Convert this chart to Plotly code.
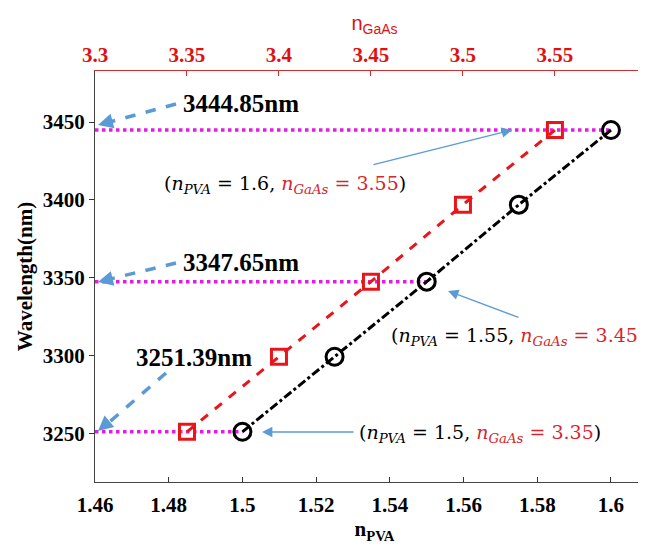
import plotly.graph_objects as go

# ---- data ----
n_pva = [1.5, 1.525, 1.55, 1.575, 1.6]
n_gaas = [3.35, 3.40, 3.45, 3.50, 3.55]
wavelength = [3251.39, 3299.5, 3347.65, 3397.0, 3444.85]
marked_wl = [3444.85, 3347.65, 3251.39]
marked_pva = [1.6, 1.55, 1.5]
pva_ticks = [1.46, 1.48, 1.5, 1.52, 1.54, 1.56, 1.58, 1.6]
pva_ticktext = ["1.46", "1.48", "1.5", "1.52", "1.54", "1.56", "1.58", "1.6"]
gaas_ticks = [3.3, 3.35, 3.4, 3.45, 3.5, 3.55]
gaas_ticktext = ["3.3", "3.35", "3.4", "3.45", "3.5", "3.55"]
wl_ticks = [3250, 3300, 3350, 3400, 3450]
labels_nm = ["3444.85nm", "3347.65nm", "3251.39nm"]
pair_labels = [("1.6", "3.55"), ("1.55", "3.45"), ("1.5", "3.35")]

OFF = 8  # default page body margin
W, H = 646, 548 - OFF
L, R, T, B = 95 - OFF, 0, 71 - OFF, 66
PL, PT = 95, 71            # plot-area origin in window pixels
PW, PH = W - L - R, H - T - B
XPX = 551 / 0.1495         # pixels per unit of n_PVA
X2PX = 551 / 0.2995        # pixels per unit of n_GaAs
XR = [1.46, 1.46 + PW / XPX]
X2R = [3.3, 3.3 + PW / X2PX]
YR = [3219.2, 3482.7]

def px2x(px):
    return XR[0] + (px - PL) / PW * (XR[1] - XR[0])

def py2y(py):
    return YR[1] - (py - PT) / PH * (YR[1] - YR[0])

SERIF = "Liberation Serif"
BLUE = "#5B9BD5"
RED = "#E8161B"

fig = go.Figure()

# magenta dotted guide lines
for wl, xp in zip(marked_wl, marked_pva):
    fig.add_trace(go.Scatter(x=[XR[0], xp], y=[wl, wl], mode="lines",
                             line=dict(color="#E61AE6", width=3.5, dash="dot"),
                             showlegend=False, hoverinfo="skip"))

# black series (n_PVA)
fig.add_trace(go.Scatter(x=n_pva, y=wavelength, mode="lines+markers",
                         line=dict(color="black", width=3, dash="dashdot"),
                         marker=dict(symbol="circle-open", size=17, color="black",
                                     line=dict(width=3)),
                         showlegend=False))
# red series (n_GaAs)
fig.add_trace(go.Scatter(x=n_gaas, y=wavelength, xaxis="x2", mode="lines+markers",
                         line=dict(color=RED, width=3, dash="dash"),
                         marker=dict(symbol="square-open", size=15, color=RED,
                                     line=dict(width=3)),
                         showlegend=False))
# invisible trace for right axis ticks
fig.add_trace(go.Scatter(x=[n_pva[0]], y=[wavelength[0]], yaxis="y2", mode="markers",
                         marker=dict(opacity=0), showlegend=False, hoverinfo="skip"))

shapes = []
annotations = []

# dashed blue arrows to the y axis
big_arrows = [((176, 104), (98, 125)), ((176, 263), (98, 282)), ((166, 373), (98, 431))]
for (tx, ty), (hx, hy) in big_arrows:
    shapes.append(dict(type="line", xref="x", yref="y",
                       x0=px2x(tx), y0=py2y(ty), x1=px2x(hx + 8), y1=py2y(hy - 2 if ty < 300 else hy - 6),
                       line=dict(color=BLUE, width=3.5, dash="dash")))
    annotations.append(dict(x=px2x(hx), y=py2y(hy), xref="x", yref="y",
                            ax=(tx - hx) * 0.16, ay=(ty - hy) * 0.16, text="",
                            showarrow=True, arrowhead=2, arrowsize=1.0, arrowwidth=3,
                            arrowcolor=BLUE))

# nm labels
nm_pos = [(181, 103), (181, 262), (134, 357)]
for txt, (x, y) in zip(labels_nm, nm_pos):
    annotations.append(dict(x=px2x(x), y=py2y(y), xref="x", yref="y", text="<b>" + txt + "</b>",
                            showarrow=False, xanchor="left", yanchor="middle",
                            font=dict(family=SERIF, size=25, color="black", weight="bold")))

# thin blue arrows
thin_arrows = [((372, 165), (512, 130)), ((520, 318), (448, 291)), ((355, 432), (262, 432))]
for (tx, ty), (hx, hy) in thin_arrows:
    annotations.append(dict(x=px2x(hx), y=py2y(hy), xref="x", yref="y",
                            ax=tx - hx, ay=ty - hy, text="",
                            showarrow=True, arrowhead=2, arrowsize=1.6, arrowwidth=1.3,
                            arrowcolor=BLUE))

# pair labels
pair_pos = [(162, 184), (389, 336), (357, 433)]
for (pv, ga), (x, y) in zip(pair_labels, pair_pos):
    txt = ("(<i>n</i><sub><i>PVA</i></sub> = " + pv + ", "
           "<span style='color:#D7262B'><i>n</i><sub><i>GaAs</i></sub> = " + ga + "</span>)")
    annotations.append(dict(x=px2x(x), y=py2y(y), xref="x", yref="y", text=txt,
                            showarrow=False, xanchor="left", yanchor="middle",
                            font=dict(family="DejaVu Serif", size=19, color="black")))

tick_black = dict(family=SERIF, size=21, color="black", weight="bold")
tick_red = dict(family=SERIF, size=21, color="#E01010", weight="bold")

fig.update_layout(
    width=W, height=H,
    margin=dict(l=L, r=R, t=T, b=B, pad=0, autoexpand=False),
    paper_bgcolor="white", plot_bgcolor="white",
    shapes=shapes, annotations=annotations,
    xaxis=dict(range=XR, tickvals=pva_ticks, ticktext=pva_ticktext, automargin=False,
               ticks="inside", ticklen=5, tickcolor="#333", showline=True, linecolor="#444",
               linewidth=1, showgrid=False, zeroline=False, ticklabelstandoff=4,
               tickfont=tick_black,
               title=dict(text="<b>n<sub>PVA</sub></b>",
                          font=dict(family=SERIF, size=21, color="black", weight="bold"),
                          standoff=4)),
    xaxis2=dict(range=X2R, overlaying="x", side="top", tickvals=gaas_ticks, ticktext=gaas_ticktext,
                automargin=False,
                ticks="inside", ticklen=5, tickcolor="#D03030", showline=True, linecolor="#D03030",
                linewidth=1, showgrid=False, zeroline=False,
                tickfont=tick_red,
                title=dict(text="n<sub>GaAs</sub>",
                           font=dict(family="Liberation Sans", size=20, color="#E01010"),
                           standoff=6)),
    yaxis=dict(range=YR, tickvals=wl_ticks, ticks="outside", ticklen=5, tickcolor="#333",
               automargin=False,
               showline=True, linecolor="#444", linewidth=1, showgrid=False, zeroline=False,
               tickfont=tick_black,
               title=dict(text="<b>Wavelength(nm)</b>",
                          font=dict(family=SERIF, size=21, color="black", weight="bold"),
                          standoff=4)),
    yaxis2=dict(range=YR, overlaying="y", side="right", tickvals=wl_ticks, ticks="inside", ticklen=13,
                automargin=False,
                tickcolor="#333", showticklabels=False, showline=False,
                showgrid=False, zeroline=False),
)

fig.write_html("out.html")
